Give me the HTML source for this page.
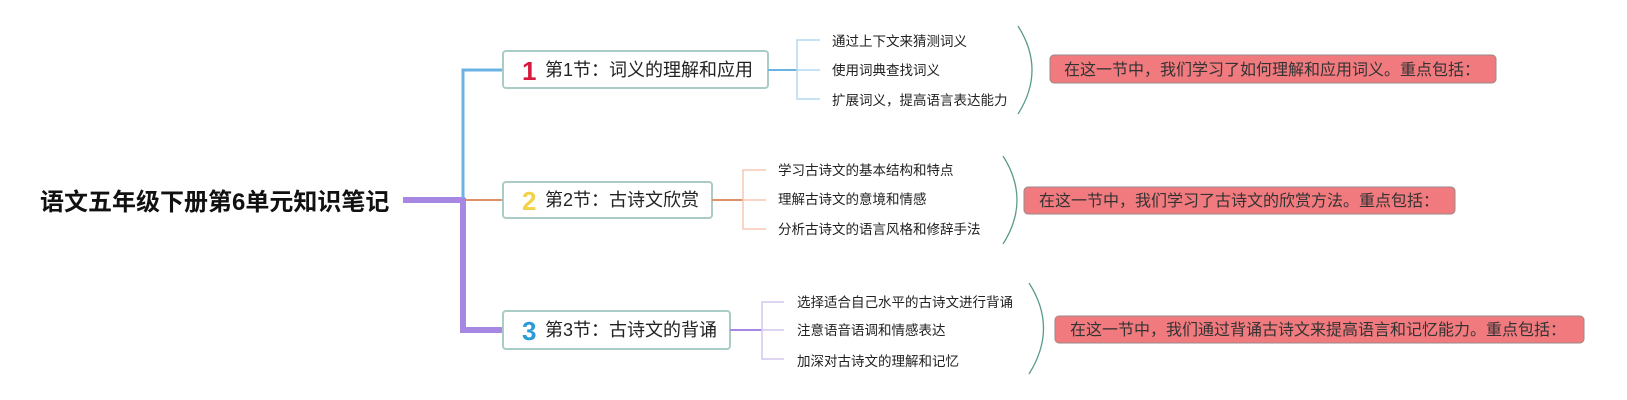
<!DOCTYPE html>
<html><head><meta charset="utf-8"><style>
html,body{margin:0;padding:0;background:#fff;width:1627px;height:400px;overflow:hidden}
text{font-family:"Liberation Sans","Noto Sans CJK SC",sans-serif}
</style></head><body>
<svg width="1627" height="400" xmlns="http://www.w3.org/2000/svg">
<!-- root -->
<text x="40" y="210" font-size="24" font-weight="bold" fill="#111">语文五年级下册第6单元知识笔记</text>
<!-- trunk -->
<line x1="403" y1="200" x2="465" y2="200" stroke="#a688e3" stroke-width="6"/>
<path d="M503 70 H463 V200" fill="none" stroke="#6ab3e2" stroke-width="3"/>
<line x1="463" y1="200" x2="503" y2="200" stroke="#e0916a" stroke-width="2"/>
<path d="M463 198 V330 H503" fill="none" stroke="#a688e3" stroke-width="6"/>
<!-- nodes -->
<rect x="503" y="51" width="265" height="37" rx="3" fill="#fff" stroke="#a9cdc6" stroke-width="2"/>
<text x="522" y="80" font-size="26" font-weight="bold" fill="#d6193c">1</text>
<text x="545" y="76" font-size="18" fill="#222">第1节：词义的理解和应用</text>
<rect x="503" y="182" width="209" height="36" rx="3" fill="#fff" stroke="#a9cdc6" stroke-width="2"/>
<text x="522" y="210" font-size="26" font-weight="bold" fill="#f3d247">2</text>
<text x="545" y="206" font-size="18" fill="#222">第2节：古诗文欣赏</text>
<rect x="503" y="311" width="227" height="38" rx="3" fill="#fff" stroke="#a9cdc6" stroke-width="2"/>
<text x="522" y="340" font-size="26" font-weight="bold" fill="#2a9bd6">3</text>
<text x="545" y="336" font-size="18" fill="#222">第3节：古诗文的背诵</text>
<!-- leaf brackets -->
<line x1="768" y1="70" x2="797" y2="70" stroke="#6ab3e2" stroke-width="2"/>
<path d="M820 40 H797 V99 H820 M797 70 H820" fill="none" stroke="#b3d9f0" stroke-width="1.5"/>
<text x="832" y="46" font-size="13.5" fill="#222">通过上下文来猜测词义</text>
<text x="832" y="75" font-size="13.5" fill="#222">使用词典查找词义</text>
<text x="832" y="105" font-size="13.5" fill="#222">扩展词义，提高语言表达能力</text>

<line x1="712" y1="200" x2="743" y2="200" stroke="#e0916a" stroke-width="2"/>
<path d="M766 170 H743 V229 H766 M743 200 H766" fill="none" stroke="#f5c7b0" stroke-width="1.5"/>
<text x="778" y="175" font-size="13.5" fill="#222">学习古诗文的基本结构和特点</text>
<text x="778" y="204" font-size="13.5" fill="#222">理解古诗文的意境和情感</text>
<text x="778" y="234" font-size="13.5" fill="#222">分析古诗文的语言风格和修辞手法</text>

<line x1="730" y1="330" x2="762" y2="330" stroke="#a688e3" stroke-width="2"/>
<path d="M784 302 H762 V359 H784 M762 330 H784" fill="none" stroke="#d2c7ee" stroke-width="1.5"/>
<text x="797" y="307" font-size="13.5" fill="#222">选择适合自己水平的古诗文进行背诵</text>
<text x="797" y="335" font-size="13.5" fill="#222">注意语音语调和情感表达</text>
<text x="797" y="366" font-size="13.5" fill="#222">加深对古诗文的理解和记忆</text>
<!-- arcs -->
<path d="M1018 26 Q1046 70 1018 114" fill="none" stroke="#5a9b8e" stroke-width="1.3"/>
<path d="M1003 156 Q1031 200 1003 244" fill="none" stroke="#5a9b8e" stroke-width="1.3"/>
<path d="M1029 283 Q1058 328 1029 374" fill="none" stroke="#5a9b8e" stroke-width="1.3"/>
<!-- summaries -->
<rect x="1050" y="55" width="446" height="28" rx="4" fill="#f07a7e" stroke="#9a8a8a" stroke-width="1"/>
<text x="1064" y="75" font-size="16" fill="#333">在这一节中，我们学习了如何理解和应用词义。重点包括：</text>
<rect x="1024" y="187" width="431" height="27" rx="4" fill="#f07a7e" stroke="#9a8a8a" stroke-width="1"/>
<text x="1039" y="206" font-size="16" fill="#333">在这一节中，我们学习了古诗文的欣赏方法。重点包括：</text>
<rect x="1055" y="316" width="529" height="27" rx="4" fill="#f07a7e" stroke="#9a8a8a" stroke-width="1"/>
<text x="1070" y="335" font-size="16" fill="#333">在这一节中，我们通过背诵古诗文来提高语言和记忆能力。重点包括：</text>
</svg>
</body></html>
